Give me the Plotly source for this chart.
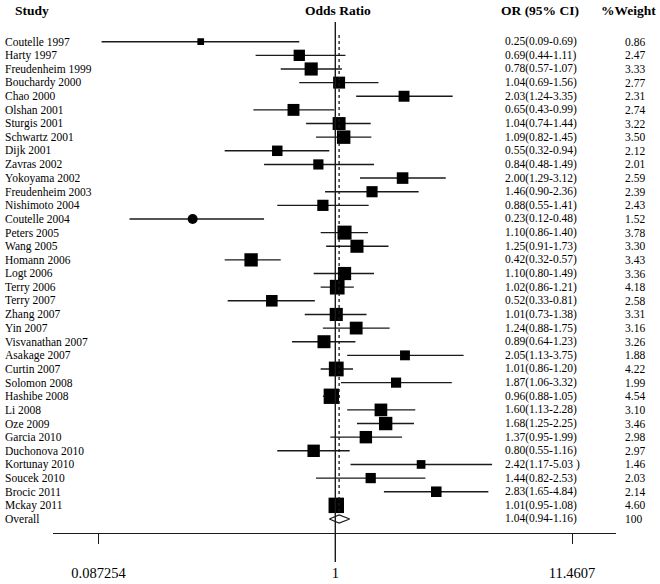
import plotly.graph_objects as go
import math

studies = ["Coutelle 1997", "Harty 1997", "Freudenheim 1999", "Bouchardy 2000", "Chao 2000",
           "Olshan 2001", "Sturgis 2001", "Schwartz 2001", "Dijk 2001", "Zavras 2002",
           "Yokoyama 2002", "Freudenheim 2003", "Nishimoto 2004", "Coutelle 2004", "Peters 2005",
           "Wang 2005", "Homann 2006", "Logt 2006", "Terry 2006", "Terry 2007",
           "Zhang 2007", "Yin 2007", "Visvanathan 2007", "Asakage 2007", "Curtin 2007",
           "Solomon 2008", "Hashibe 2008", "Li 2008", "Oze 2009", "Garcia 2010",
           "Duchonova 2010", "Kortunay 2010", "Soucek 2010", "Brocic 2011", "Mckay 2011"]
or_est = [0.25, 0.69, 0.78, 1.04, 2.03, 0.65, 1.04, 1.09, 0.55, 0.84,
          2.00, 1.46, 0.88, 0.23, 1.10, 1.25, 0.42, 1.10, 1.02, 0.52,
          1.01, 1.24, 0.89, 2.05, 1.01, 1.87, 0.96, 1.60, 1.68, 1.37,
          0.80, 2.42, 1.44, 2.83, 1.01]
ci_low = [0.09, 0.44, 0.57, 0.69, 1.24, 0.43, 0.74, 0.82, 0.32, 0.48,
          1.29, 0.90, 0.55, 0.12, 0.86, 0.91, 0.32, 0.80, 0.86, 0.33,
          0.73, 0.88, 0.64, 1.13, 0.86, 1.06, 0.88, 1.13, 1.25, 0.95,
          0.55, 1.17, 0.82, 1.65, 0.95]
ci_high = [0.69, 1.11, 1.07, 1.56, 3.35, 0.99, 1.44, 1.45, 0.94, 1.49,
           3.12, 2.36, 1.41, 0.48, 1.40, 1.73, 0.57, 1.49, 1.21, 0.81,
           1.38, 1.75, 1.23, 3.75, 1.20, 3.32, 1.05, 2.28, 2.25, 1.99,
           1.16, 5.03, 2.53, 4.84, 1.08]
weights = ["0.86", "2.47", "3.33", "2.77", "2.31", "2.74", "3.22", "3.50", "2.12", "2.01",
           "2.59", "2.39", "2.43", "1.52", "3.78", "3.30", "3.43", "3.36", "4.18", "2.58",
           "3.31", "3.16", "3.26", "1.88", "4.22", "1.99", "4.54", "3.10", "3.46", "2.98",
           "2.97", "1.46", "2.03", "2.14", "4.60"]
marker_shapes = ["square"] * 13 + ["circle"] + ["square"] * 21

overall_label = "Overall"
overall_est, overall_low, overall_high = 1.04, 0.94, 1.16
overall_weight = "100"

tick_vals = [0.087254, 1, 11.4607]
tick_text = ["0.087254", "1", "11.4607"]

headers = ["Study", "Odds Ratio", "OR (95% CI)", "%Weight"]

W, H = 660, 584
FONT = "Liberation Serif, Times New Roman, serif"
n = len(studies)
rows = list(range(n))
overall_row = n


def fmt(e, lo, hi):
    return f"{e:.2f}({lo:.2f}-{hi:.2f})"


or_text = [fmt(e, l, h) for e, l, h in zip(or_est, ci_low, ci_high)]
or_text[studies.index("Kortunay 2010")] = "2.42(1.17-5.03 )"

fig = go.Figure()

# CI whiskers
xs, ys = [], []
for r, lo, hi in zip(rows, ci_low, ci_high):
    xs += [lo, hi, None]
    ys += [r, r, None]
fig.add_trace(go.Scatter(x=xs, y=ys, mode="lines", line=dict(color="#1a1a1a", width=1.4),
                         hoverinfo="skip", showlegend=False))

# point estimates, area proportional to weight
sizes = []
for w, s in zip(weights, marker_shapes):
    side = 7.2 * math.sqrt(float(w))
    sizes.append(side * (1.128 if s == "circle" else 1.0))
fig.add_trace(go.Scatter(x=or_est, y=rows, mode="markers",
                         marker=dict(symbol=marker_shapes, size=sizes, color="black", opacity=1,
                                     line=dict(width=0)),
                         showlegend=False))

# overall diamond
dh = 0.3
fig.add_trace(go.Scatter(x=[overall_low, overall_est, overall_high, overall_est, overall_low],
                         y=[overall_row, overall_row - dh, overall_row, overall_row + dh, overall_row],
                         mode="lines", fill="toself", fillcolor="white",
                         line=dict(color="#1a1a1a", width=1.1), showlegend=False))

ann = []
for r, s in zip(rows + [overall_row], studies + [overall_label]):
    ann.append(dict(x=3 / W, xref="paper", y=r, yref="y", text=s, showarrow=False,
                    xanchor="left", yanchor="middle", font=dict(size=11.5, family=FONT, color="black")))
for r, s in zip(rows + [overall_row], or_text + [fmt(overall_est, overall_low, overall_high)]):
    ann.append(dict(x=503 / W, xref="paper", y=r, yref="y", text=s, showarrow=False,
                    xanchor="left", yanchor="middle", font=dict(size=11.5, family=FONT, color="black")))
for r, s in zip(rows + [overall_row], weights + [overall_weight]):
    ann.append(dict(x=623 / W, xref="paper", y=r, yref="y", text=s, showarrow=False,
                    xanchor="left", yanchor="middle", font=dict(size=11.5, family=FONT, color="black")))

hdr_x = [13 / W, 338 / W, 540 / W, 628 / W]
hdr_anchor = ["left", "center", "center", "center"]
for t, x, a in zip(headers, hdr_x, hdr_anchor):
    ann.append(dict(x=x, xref="paper", y=-2.3, yref="y", text=f"<b>{t}</b>", showarrow=False,
                    xanchor=a, yanchor="middle", font=dict(size=13.5, family=FONT, color="black")))

shapes = [
    dict(type="line", xref="x", yref="paper", x0=1, x1=1, y0=(533 - 22) / 533, y1=(533 - 562) / 533,
         line=dict(color="#1a1a1a", width=1.4)),
    dict(type="line", xref="x", yref="y", x0=overall_est, x1=overall_est, y0=-0.5, y1=overall_row - 0.3,
         line=dict(color="#1a1a1a", width=1.3, dash="3px,3px")),
]

fig.update_layout(
    width=W, height=H,
    margin=dict(l=0, r=0, t=0, b=51),
    paper_bgcolor="white", plot_bgcolor="white",
    annotations=ann, shapes=shapes,
    xaxis=dict(type="log", range=[-1.2617, 1.2559], domain=[53.3 / W, 616 / W],
               showline=True, linecolor="#1a1a1a", linewidth=1.4,
               ticks="outside", ticklen=10, tickwidth=1.4, tickcolor="#1a1a1a",
               tickvals=tick_vals, ticktext=tick_text, ticklabelstandoff=16,
               tickfont=dict(size=14.5, family=FONT, color="black"),
               showgrid=False, zeroline=False, fixedrange=True),
    yaxis=dict(range=[36.027, -3.058], visible=False, showgrid=False, zeroline=False, fixedrange=True),
    showlegend=False,
)

fig.write_html("out.html", config={"displayModeBar": False},
               post_script="document.body.style.margin='0';")
